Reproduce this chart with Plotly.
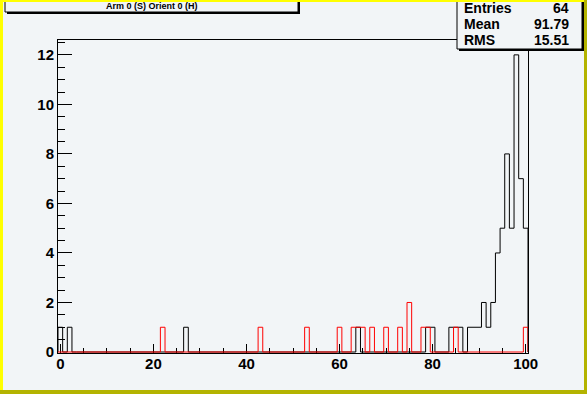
import plotly.graph_objects as go

# ---------------- data ----------------
bin_centers = list(range(0, 101))  # 101 bins of width 1, range -0.5 .. 100.5
black_bins = [0, 2, 27, 64, 79, 80, 84, 85, 86, 88, 89, 90, 91, 92, 93, 94, 95, 96, 97, 98, 99, 100]
black_counts = [1, 1, 1, 1, 1, 1, 1, 1, 1, 1, 1, 1, 2, 1, 2, 4, 5, 8, 5, 12, 7, 5]
red_bins = [22, 43, 53, 60, 63, 64, 65, 67, 70, 73, 75, 78, 79, 85, 100]
red_counts = [1, 1, 1, 1, 1, 1, 1, 1, 1, 1, 2, 1, 1, 1, 1]

title_text = "Arm 0 (S) Orient 0 (H)"
stats_labels = ["Entries", "Mean", "RMS"]
stats_values = ["64", "91.79", "15.51"]
x_ticks = [0, 20, 40, 60, 80, 100]
y_ticks = [0, 2, 4, 6, 8, 10, 12]

# ---------------- layout geometry ----------------
W, H = 587, 394
L, R, T, B = 58, 59, 40, 41
PW, PH = W - L - R, H - T - B
BG = "#f2f5f7"
FONT = "Liberation Sans, Arial, Helvetica, sans-serif"


def px2x(px):
    return (px - L) / PW


def py2y(py):
    return (H - B - py) / PH


def outline(bins, counts):
    full = [0] * len(bin_centers)
    for b, c in zip(bins, counts):
        full[b] = c
    xs = [bin_centers[0] - 0.5]
    ys = [0]
    for c, v in zip(bin_centers, full):
        xs += [c - 0.5, c + 0.5]
        ys += [v, v]
    xs.append(bin_centers[-1] + 0.5)
    ys.append(0)
    return xs, ys


bx, by = outline(black_bins, black_counts)
rx, ry = outline(red_bins, red_counts)

fig = go.Figure()
fig.add_trace(go.Scatter(x=bx, y=by, mode="lines", line=dict(color="black", width=1),
                         hoverinfo="skip", showlegend=False))
fig.add_trace(go.Scatter(x=rx, y=ry, mode="lines", line=dict(color="#ff0000", width=1),
                         hoverinfo="skip", showlegend=False))


def rect(x0, y0, x1, y1, fill, line_color=None, lw=0):
    return dict(type="rect", xref="paper", yref="paper",
                x0=px2x(x0), x1=px2x(x1), y0=py2y(y1), y1=py2y(y0),
                fillcolor=fill, line=dict(color=line_color or fill, width=lw),
                layer="above")


shapes = [
    # title box with shadow
    rect(7, -10, 300, 14, "black"),
    rect(5, -10, 298, 12, BG, "black", 1),
    # stats box with shadow
    rect(459, -10, 584, 51, "black"),
    rect(457, -10, 582, 49, BG, "black", 1),
    # canvas bevel border
    rect(0, 0, 3, H, "#ffff00"),
    rect(0, 0, W, 2, "#ffff00"),
    rect(0, H - 4, W, H, "#b3b300"),
    rect(W - 3, 0, W, H, "#b3b300"),
]

annotations = [
    dict(text="<b>%s</b>" % title_text, xref="paper", yref="paper",
         x=px2x(152), y=py2y(6), xanchor="center", yanchor="middle",
         showarrow=False, font=dict(family=FONT, size=9, color="black")),
]
row_y = [8, 24, 40.5]
for lab, val, yy in zip(stats_labels, stats_values, row_y):
    annotations.append(dict(text="<b>%s</b>" % lab, xref="paper", yref="paper",
                            x=px2x(462), y=py2y(yy), xanchor="left", yanchor="middle",
                            showarrow=False, font=dict(family=FONT, size=14, color="black")))
    annotations.append(dict(text="<b>%s</b>" % val, xref="paper", yref="paper",
                            x=px2x(571), y=py2y(yy), xanchor="right", yanchor="middle",
                            showarrow=False, font=dict(family=FONT, size=14, color="black")))

fig.update_layout(
    width=W, height=H,
    margin=dict(l=L, r=R, t=T, b=B, pad=0),
    paper_bgcolor=BG, plot_bgcolor=BG,
    shapes=shapes, annotations=annotations,
    showlegend=False,
)
fig.update_xaxes(
    range=[-0.5, 100.5], tickvals=x_ticks, ticktext=[str(v) for v in x_ticks],
    ticks="inside", ticklen=9, tickcolor="black", tickwidth=1,
    minor=dict(dtick=5, tick0=0, ticks="inside", ticklen=5, tickcolor="black", showgrid=False),
    showline=True, linecolor="black", linewidth=1, mirror=True,
    showgrid=False, zeroline=False, automargin=False, layer="below traces",
    tickfont=dict(family=FONT, size=15, color="black", weight="bold"),
    ticklabelstandoff=-3,
)
fig.update_yaxes(
    range=[-0.04, 12.6], tickvals=y_ticks, ticktext=[str(v) for v in y_ticks],
    ticks="inside", ticklen=14, tickcolor="black", tickwidth=1,
    minor=dict(dtick=0.5, tick0=0, ticks="inside", ticklen=7, tickcolor="black", showgrid=False),
    showline=True, linecolor="black", linewidth=1, mirror=True,
    showgrid=False, zeroline=False, automargin=False, layer="below traces",
    tickfont=dict(family=FONT, size=15, color="black", weight="bold"),
)

fig.write_html(
    "out.html",
    config={"displayModeBar": False},
    post_script="document.body.style.margin='0';document.body.style.overflow='hidden';",
)
